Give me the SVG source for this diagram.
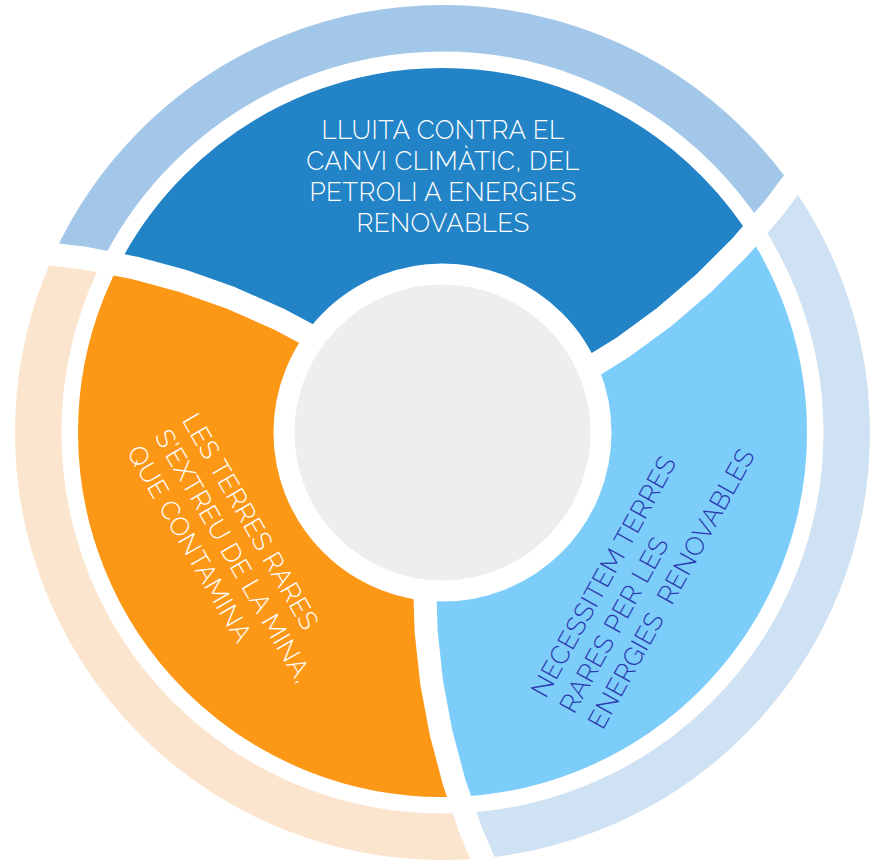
<svg xmlns="http://www.w3.org/2000/svg" xmlns:xlink="http://www.w3.org/1999/xlink" width="873" height="866" viewBox="0 0 873 866">
<defs>
<style>
.ring{fill:none;stroke-width:46.5}
.seg{fill:none;stroke-width:195.5}
.gap{fill:none;stroke:#ffffff;stroke-width:23;stroke-linejoin:round}
.lbl{font-family:Raleway,Lato,"Open Sans","Liberation Sans",sans-serif;font-weight:300;font-size:26px;letter-spacing:0.4px;white-space:pre}
</style>
<clipPath id="sec-top"><path transform="translate(442.5,432.5)" d="M0,0 L-119.97,-90.05 L-164.44,-113.82 L-210.89,-134.30 L-259.04,-151.30 L-308.76,-164.79 L-359.84,-174.67 L-406.87,-180.31 A445,445 0 0 1 359.6,-262.2 L331.2,-224.3 L297.1,-185.0 L260.55,-148.68 L221.75,-115.48 L180.8,-85.5 L137.97,-58.87 Z"/></clipPath>
<clipPath id="sec-right"><path transform="translate(442.5,432.5) rotate(120)" d="M0,0 L-119.97,-90.05 L-164.44,-113.82 L-210.89,-134.30 L-259.04,-151.30 L-308.76,-164.79 L-359.84,-174.67 L-406.87,-180.31 A445,445 0 0 1 359.6,-262.2 L331.2,-224.3 L297.1,-185.0 L260.55,-148.68 L221.75,-115.48 L180.8,-85.5 L137.97,-58.87 Z"/></clipPath>
<clipPath id="sec-left"><path transform="translate(442.5,432.5) rotate(240)" d="M0,0 L-119.97,-90.05 L-164.44,-113.82 L-210.89,-134.30 L-259.04,-151.30 L-308.76,-164.79 L-359.84,-174.67 L-406.87,-180.31 A445,445 0 0 1 359.6,-262.2 L331.2,-224.3 L297.1,-185.0 L260.55,-148.68 L221.75,-115.48 L180.8,-85.5 L137.97,-58.87 Z"/></clipPath>
<path id="gapline" class="gap" d="M137.97,-58.87 L180.8,-85.5 L221.75,-115.48 L260.55,-148.68 L297.1,-185.0 L331.2,-224.3 L359.6,-262.2"/>
</defs>
<rect width="873" height="866" fill="#ffffff"/>
<g id="node-top">
<g clip-path="url(#sec-top)">
<circle class="ring" cx="442.5" cy="432.5" r="404.25" stroke="#A3C7E9"/>
<circle class="seg" cx="442.5" cy="432.5" r="266.75" stroke="#2283C6"/>
</g>
<text class="lbl" fill="#ffffff" text-anchor="middle" x="443"><tspan x="443" y="138.5">LLUITA CONTRA EL</tspan><tspan x="443" y="170">CANVI CLIMÀTIC, DEL</tspan><tspan x="443" y="201">PETROLI A ENERGIES</tspan><tspan x="443" y="232">RENOVABLES</tspan></text>
</g>
<g id="node-right">
<g clip-path="url(#sec-right)">
<circle class="ring" cx="442.5" cy="432.5" r="404.25" stroke="#CFE2F3"/>
<circle class="seg" cx="442.5" cy="432.5" r="266.75" stroke="#7DCDFB"/>
</g>
<text class="lbl" fill="#2B3AAE" transform="rotate(-61)" xml:space="preserve"><tspan x="-347" y="816.4">NECESSITEM TERRES</tspan><tspan x="-347" y="848.9">RARES PER LES</tspan><tspan x="-347" y="881.4">ENERGIES  RENOVABLES</tspan></text>
</g>
<g id="node-left">
<g clip-path="url(#sec-left)">
<circle class="ring" cx="442.5" cy="432.5" r="404.25" stroke="#FCE5CF"/>
<circle class="seg" cx="442.5" cy="432.5" r="266.75" stroke="#FD9716"/>
</g>
<text class="lbl" fill="#ffffff" transform="rotate(60)"><tspan x="454.5" y="52.7">LES TERRES RARES</tspan><tspan x="454.5" y="84.7">S'EXTREU DE LA MINA,</tspan><tspan x="454.5" y="116.7">QUE CONTAMINA</tspan></text>
</g>
<g id="connectors">
<use xlink:href="#gapline" transform="translate(442.5,432.5)"/>
<use xlink:href="#gapline" transform="translate(442.5,432.5) rotate(120)"/>
<use xlink:href="#gapline" transform="translate(442.5,432.5) rotate(240)"/>
</g>
<g id="node-center">
<circle cx="442.5" cy="432.5" r="148" fill="#EEEEEE"/>
</g>
</svg>
